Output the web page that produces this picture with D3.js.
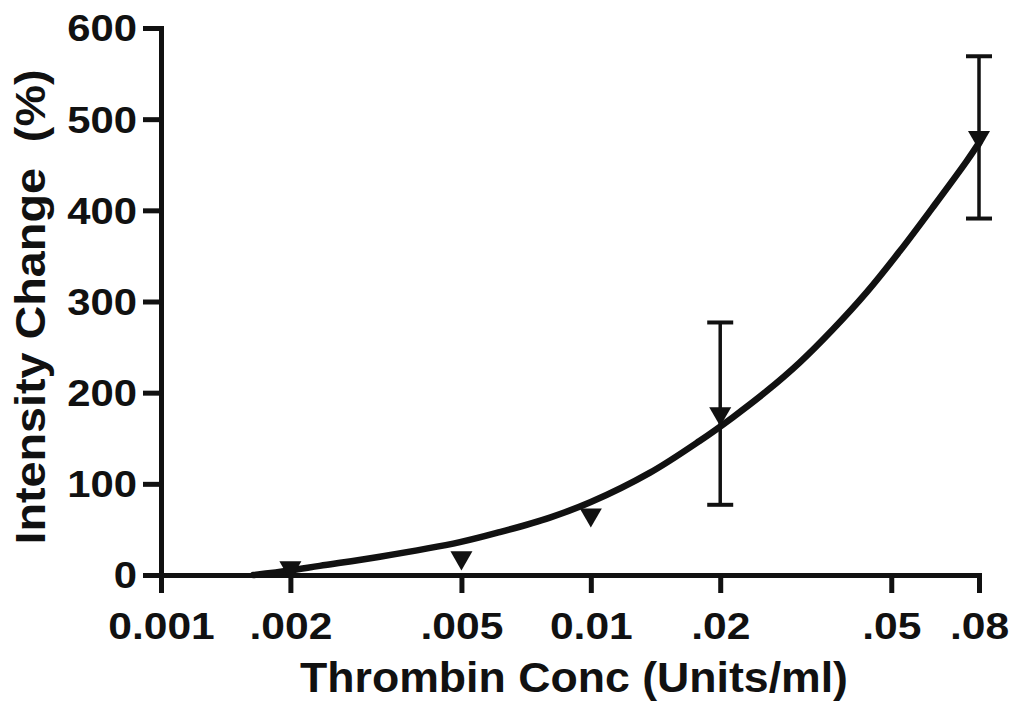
<!DOCTYPE html>
<html>
<head>
<meta charset="utf-8">
<script src="https://cdn.jsdelivr.net/npm/d3@7"></script>
<style>
  html, body { margin: 0; padding: 0; background: #fff; }
  svg { display: block; }
  text { font-family: "Liberation Sans", Arial, sans-serif; font-weight: bold; fill: #111; }
</style>
</head>
<body>
<svg id="chart" width="1011" height="704"></svg>
<script>
// Thrombin dose–response: measured means (± SEM) and fitted curve
const concentrations = [0.002, 0.005, 0.01, 0.02, 0.08];
const meanChange     = [8, 19, 66, 177, 480];
const semChange      = [0, 0, 0, 100, 89];

// Fitted curve, sampled along the concentration axis
const fitConc  = [0.00164, 0.002, 0.00234, 0.00323, 0.00496, 0.00614, 0.00803, 0.01,
                  0.0137, 0.0179, 0.0214, 0.0257, 0.0306, 0.0365, 0.0438, 0.0523,
                  0.0624, 0.0749, 0.08];
const fitValue = [0, 5, 10, 20, 36, 47, 63, 80,
                  112, 147, 173, 202, 233, 269, 310, 355,
                  403, 454, 474];

const xTickValues = [0.001, 0.002, 0.005, 0.01, 0.02, 0.05, 0.08];
const xTickLabels = ["0.001", ".002", ".005", "0.01", ".02", ".05", ".08"];
const yTickValues = [0, 100, 200, 300, 400, 500, 600];

const svg = d3.select("#chart");
const ink = "#111";
const fontStack = "'Liberation Sans', Arial, sans-serif";

const x = d3.scaleLog().domain([0.001, 0.08]).range([161, 979]);
const y = d3.scaleLinear().domain([0, 600]).range([575, 28]);

// Widen bold lettering a little so it reads like the Helvetica used by the plotting tool
function widen(sel, factor) {
  sel.each(function () {
    const w = this.getComputedTextLength();
    d3.select(this).attr("textLength", w * factor).attr("lengthAdjust", "spacingAndGlyphs");
  });
}

// Axes
const xAxis = d3.axisBottom(x)
  .tickValues(xTickValues)
  .tickFormat((d, i) => xTickLabels[i])
  .tickSize(18).tickSizeOuter(0).tickPadding(16);
const yAxis = d3.axisLeft(y)
  .tickValues(yTickValues)
  .tickFormat(d3.format("d"))
  .tickSize(18).tickSizeOuter(0).tickPadding(6);

const gx = svg.append("g").attr("transform", `translate(0,${y(0)})`).call(xAxis);
const gy = svg.append("g").attr("transform", `translate(${x(0.001)},0)`).call(yAxis);

[gx, gy].forEach(g => {
  g.select(".domain").attr("stroke", ink).attr("stroke-width", 5).attr("stroke-linecap", "square");
  g.selectAll(".tick line").attr("stroke", ink).attr("stroke-width", 5);
  g.selectAll(".tick text").attr("fill", ink).style("font-size", "37px")
    .style("font-family", fontStack).style("font-weight", "bold");
});
gx.selectAll(".tick text").attr("dy", "0.8em");
gy.selectAll(".tick text").attr("dy", "0.35em");
widen(gx.selectAll(".tick text"), 1.15);
widen(gy.selectAll(".tick text"), 1.13);

// Fitted curve
const line = d3.line()
  .x((d, i) => x(fitConc[i]))
  .y(d => y(d))
  .curve(d3.curveCatmullRom);
svg.append("path")
  .datum(fitValue)
  .attr("d", line)
  .attr("fill", "none")
  .attr("stroke", ink)
  .attr("stroke-width", 6.5)
  .attr("stroke-linecap", "round");

// Error bars
const points = concentrations.map((c, i) => ({ c, m: meanChange[i], e: semChange[i] }));
const eb = svg.append("g").attr("stroke", ink).attr("stroke-width", 3.5);
points.filter(p => p.e > 0).forEach(p => {
  const cx = x(p.c);
  eb.append("line").attr("x1", cx).attr("x2", cx).attr("y1", y(p.m - p.e)).attr("y2", y(p.m + p.e));
  [p.m - p.e, p.m + p.e].forEach(v => {
    eb.append("line").attr("x1", cx - 13).attr("x2", cx + 13).attr("y1", y(v)).attr("y2", y(v)).attr("stroke-width", 4);
  });
});

// Downward triangle markers
const tri = d3.symbol().type(d3.symbolTriangle).size(210);
svg.append("g").selectAll("path")
  .data(points)
  .join("path")
  .attr("d", tri)
  .attr("transform", p => `translate(${x(p.c)},${y(p.m)}) rotate(180)`)
  .attr("fill", ink);

// Axis titles
svg.append("text")
  .attr("x", 574).attr("y", 692)
  .attr("text-anchor", "middle")
  .attr("textLength", 548).attr("lengthAdjust", "spacingAndGlyphs")
  .style("font-size", "42px")
  .text("Thrombin Conc (Units/ml)");

svg.append("text")
  .attr("transform", "translate(45,307) rotate(-90)")
  .attr("text-anchor", "middle")
  .attr("textLength", 475).attr("lengthAdjust", "spacingAndGlyphs")
  .style("font-size", "42px")
  .style("white-space", "pre")
  .text("Intensity Change  (%)");
</script>
</body>
</html>
